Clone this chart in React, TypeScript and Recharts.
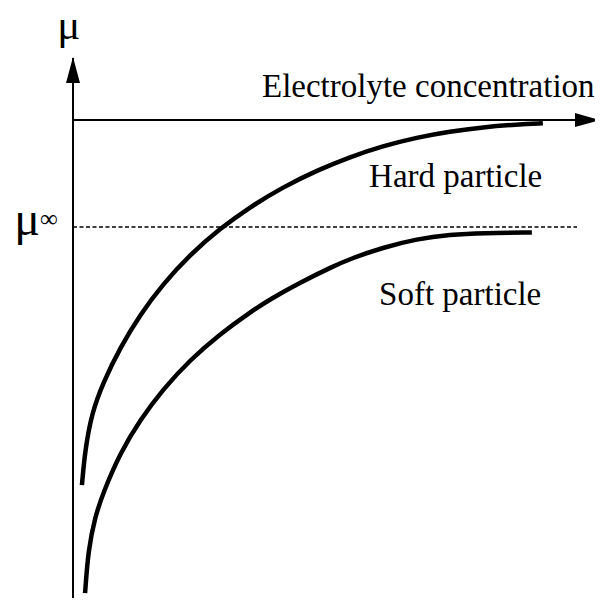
import React from "react";
import {
  ComposedChart,
  Line,
  XAxis,
  YAxis,
  ReferenceLine,
  ReferenceDot,
} from "recharts";

// concentration (arbitrary units, 0-100) and mobility
const hardConc = [1.7, 2.3, 3.6, 5.7, 9.0, 12.8, 17.1, 22.3, 28.0, 33.7, 40.0, 46.5, 52.8, 59.0, 65.5, 71.8, 78.1, 84.6, 89.5];
const hardMu = [20.9, 27.4, 34.3, 39.8, 46.4, 52.5, 58.1, 63.6, 68.4, 72.4, 76.1, 79.2, 81.7, 83.7, 85.3, 86.4, 87.2, 87.7, 87.9];

const softConc = [2.3, 2.9, 4.2, 5.7, 9.0, 12.8, 17.1, 22.3, 28.0, 33.7, 37.5, 43.2, 49.5, 52.8, 59.0, 65.5, 71.8, 78.1, 87.4];
const softMu = [0.9, 8.9, 15.0, 19.4, 26.9, 33.0, 38.6, 44.1, 48.9, 52.9, 55.3, 58.4, 61.4, 62.8, 64.9, 66.5, 67.3, 67.6, 67.7];

const axisMu = 88.5; // where the concentration axis sits
const muInf = 68.7;
const dashEnd = 96;

const hard = hardConc.map((c, i) => ({ c, mu: hardMu[i] }));
const soft = softConc.map((c, i) => ({ c, mu: softMu[i] }));

const FONT = "'Liberation Serif', 'Times New Roman', serif";

const UpArrow = (p: any) => (
  <polygon
    points={`${p.cx},${p.cy - 1} ${p.cx - 7},${p.cy + 25} ${p.cx + 7},${p.cy + 25}`}
    fill="#000"
  />
);

const RightArrow = (p: any) => (
  <polygon
    points={`${p.cx + 2},${p.cy} ${p.cx - 23},${p.cy - 7} ${p.cx - 23},${p.cy + 7}`}
    fill="#000"
  />
);

const textShape = (label: string, size: number) => (p: any) => (
  <text x={p.cx} y={p.cy} fontFamily={FONT} fontSize={size} fill="#000">
    {label}
  </text>
);

const MuInfShape = (p: any) => (
  <text x={p.cx} y={p.cy} fontFamily={FONT} fontSize={48} fill="#000">
    μ
    <tspan fontSize={25} dy={-8}>
      ∞
    </tspan>
  </text>
);

export default function App() {
  return (
    <div style={{ margin: "-8px 0 0 -8px" }}>
      <ComposedChart
        width={603}
        height={601}
        margin={{ top: 58, right: 5, bottom: 3, left: 73 }}
      >
        <XAxis type="number" dataKey="c" domain={[0, 100]} hide height={0} />
        <YAxis type="number" domain={[0, 100]} hide width={0} />
        <ReferenceLine x={0} stroke="#000" strokeWidth={2} />
        <ReferenceLine y={axisMu} stroke="#000" strokeWidth={2} />
        <ReferenceLine
          segment={[
            { x: 0, y: muInf },
            { x: dashEnd, y: muInf },
          ]}
          stroke="#000"
          strokeWidth={1.6}
          strokeDasharray="4 2.5"
        />
        <Line
          data={hard}
          dataKey="mu"
          type="basis"
          stroke="#000"
          strokeWidth={4.5}
          dot={false}
          activeDot={false}
          isAnimationActive={false}
        />
        <Line
          data={soft}
          dataKey="mu"
          type="basis"
          stroke="#000"
          strokeWidth={4.5}
          dot={false}
          activeDot={false}
          isAnimationActive={false}
        />
        <ReferenceDot x={0} y={100} r={0} ifOverflow="visible" shape={UpArrow} />
        <ReferenceDot x={100} y={axisMu} r={0} ifOverflow="visible" shape={RightArrow} />
        <ReferenceDot x={-3.0} y={103.5} r={0} ifOverflow="visible" shape={textShape("μ", 43)} />
        <ReferenceDot x={-11.2} y={67.2} r={0} ifOverflow="visible" shape={MuInfShape} />
        <ReferenceDot x={36.0} y={92.8} r={0} ifOverflow="visible" shape={textShape("Electrolyte concentration", 33)} />
        <ReferenceDot x={56.4} y={76.1} r={0} ifOverflow="visible" shape={textShape("Hard particle", 33)} />
        <ReferenceDot x={58.3} y={54.3} r={0} ifOverflow="visible" shape={textShape("Soft particle", 33)} />
      </ComposedChart>
    </div>
  );
}
